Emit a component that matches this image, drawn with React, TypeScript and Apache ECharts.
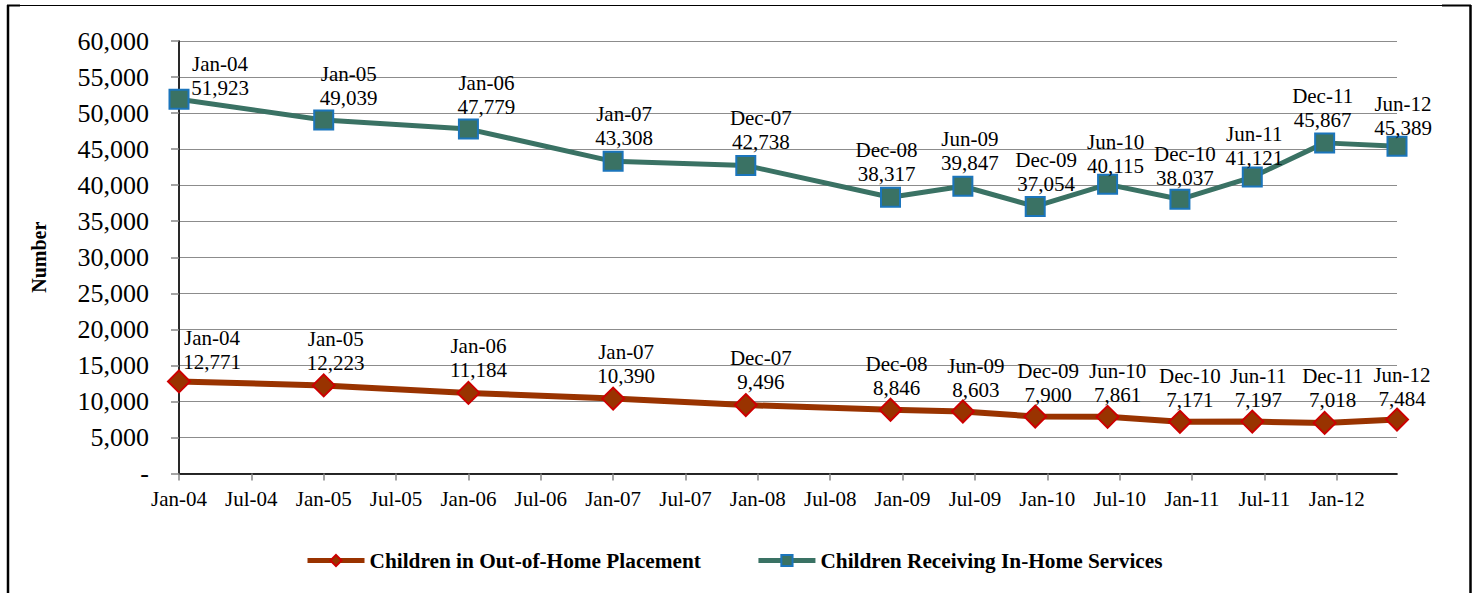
import React, { useEffect, useRef } from "react";
import * as echarts from "echarts";

// ---- data ----
const pointDates = ["Jan-04", "Jan-05", "Jan-06", "Jan-07", "Dec-07", "Dec-08", "Jun-09", "Dec-09", "Jun-10", "Dec-10", "Jun-11", "Dec-11", "Jun-12"];
// months since Jan-2004 for each point
const pointMonths = [0, 12, 24, 36, 47, 59, 65, 71, 77, 83, 89, 95, 101];
const outOfHome = [12771, 12223, 11184, 10390, 9496, 8846, 8603, 7900, 7861, 7171, 7197, 7018, 7484];
const inHome = [51923, 49039, 47779, 43308, 42738, 38317, 39847, 37054, 40115, 38037, 41121, 45867, 45389];
const monthNames = ["Jan", "Feb", "Mar", "Apr", "May", "Jun", "Jul", "Aug", "Sep", "Oct", "Nov", "Dec"];
const seriesNames = ["Children in Out-of-Home Placement", "Children Receiving In-Home Services"];

// ---- label layout (offsets of each data label, px) ----
const redLabelDx = [33, 12, 10, 13, 15, 6, 13, 13, 10, 10, 6, 8, 5];
const redLabelDy = [4, 1, 0, 0, 0, 1, 2, 1, 1, 1, 1, 0, 2];
const greenLabelDx = [41, 25, 18, 11, 15, -4, 7, 11, 8, 5, 2, -2, 6];
const greenLabelDy = [10, -1, -1, -2, -2, -2, -2, -1, 3, 0, 2, -1, 3];

const FONT = "Liberation Serif";

const fmt = (v: number) => v.toLocaleString("en-US");

export default function App() {
  const ref = useRef<HTMLDivElement>(null);
  useEffect(() => {
    if (!ref.current) return;
    const chart = echarts.init(ref.current, null, { renderer: "svg" });

    const labelBase = {
      show: true,
      position: "top" as const,
      distance: -1,
      fontSize: 21,
      lineHeight: 24,
      fontFamily: FONT,
      color: "#000",
      align: "center" as const,
    };

    const mk = (vals: number[], dx: number[], dy: number[]) =>
      vals.map((v, i) => ({
        value: [pointMonths[i], v],
        label: { ...labelBase, offset: [dx[i], dy[i]], formatter: `${pointDates[i]}\n${fmt(v)}` },
      }));

    chart.setOption({
      animation: false,
      backgroundColor: "#fff",
      textStyle: { fontFamily: FONT },
      grid: { left: 179, top: 41, right: 80, bottom: 119.5 },
      legend: {
        bottom: 17,
        left: 300,
        itemWidth: 57,
        itemHeight: 14,
        itemGap: 55,
        lineStyle: { width: 5 },
        textStyle: { fontSize: 21.3, fontWeight: "bold", fontFamily: FONT, color: "#000" },
        data: seriesNames,
      },
      xAxis: [
        {
          type: "value",
          min: 0,
          max: 101,
          interval: 6,
          axisLine: { show: true, lineStyle: { color: "#868686", width: 1.5 } },
          axisTick: { show: true, length: 7, lineStyle: { color: "#868686", width: 1.5 } },
          splitLine: { show: false },
          axisLabel: {
            fontSize: 21,
            fontFamily: FONT,
            color: "#000",
            margin: 15,
            showMaxLabel: false,
            formatter: (v: number) => {
              if (v % 6 !== 0) return "";
              const yr = 4 + Math.floor(v / 12);
              return `${monthNames[v % 12]}-${String(yr).padStart(2, "0")}`;
            },
          },
        },
        {
          type: "value",
          position: "top",
          min: 0,
          max: 101,
          axisLine: { show: true, lineStyle: { color: "#000", width: 1.5 } },
          axisTick: { show: false },
          axisLabel: { show: false },
          splitLine: { show: false },
        },
      ],
      yAxis: [
        {
          type: "value",
          min: 0,
          max: 60000,
          interval: 5000,
          name: "Number",
          nameLocation: "middle",
          nameGap: 130,
          nameTextStyle: { fontSize: 20, fontWeight: "bold", fontFamily: FONT, color: "#000" },
          axisLine: { show: true, lineStyle: { color: "#868686", width: 1.5 } },
          axisTick: { show: true, length: 8, lineStyle: { color: "#868686", width: 1.5 } },
          splitLine: { show: true, lineStyle: { color: "#8c8c8c", width: 1.2 } },
          axisLabel: {
            fontSize: 26,
            fontFamily: FONT,
            color: "#000",
            margin: 30,
            formatter: (v: number) => (v === 0 ? "-" : fmt(v)),
          },
        },
        {
          type: "value",
          position: "right",
          min: 0,
          max: 60000,
          axisLine: { show: true, lineStyle: { color: "#000", width: 1.5 } },
          axisTick: { show: false },
          axisLabel: { show: false },
          splitLine: { show: false },
        },
      ],
      series: [
        {
          name: seriesNames[0],
          type: "line",
          data: mk(outOfHome, redLabelDx, redLabelDy),
          symbol: "diamond",
          symbolSize: 22,
          lineStyle: { color: "#993300", width: 6 },
          itemStyle: { color: "#993300", borderColor: "#CC0000", borderWidth: 2 },
          z: 3,
        },
        {
          name: seriesNames[1],
          type: "line",
          data: mk(inHome, greenLabelDx, greenLabelDy),
          symbol: "rect",
          symbolSize: 19,
          lineStyle: { color: "#3A7264", width: 5 },
          itemStyle: { color: "#3A7264", borderColor: "#1B75BC", borderWidth: 2 },
          z: 3,
        },
      ],
      graphic: [
        { type: "line", shape: { x1: 7, y1: 5.5, x2: 1471, y2: 5.5 }, style: { stroke: "#000", lineWidth: 1 }, silent: true },
        { type: "line", shape: { x1: 7, y1: 5.5, x2: 20, y2: 5.5 }, style: { stroke: "#000", lineWidth: 2 }, silent: true },
        { type: "line", shape: { x1: 1442, y1: 5.5, x2: 1471, y2: 5.5 }, style: { stroke: "#000", lineWidth: 2 }, silent: true },
        { type: "line", shape: { x1: 8, y1: 5, x2: 8, y2: 600 }, style: { stroke: "#000", lineWidth: 2.5 }, silent: true },
        { type: "line", shape: { x1: 1470.5, y1: 5, x2: 1470.5, y2: 600 }, style: { stroke: "#000", lineWidth: 2.5 }, silent: true },
      ],
    });
    return () => chart.dispose();
  }, []);
  return (
    <div
      ref={ref}
      style={{ position: "absolute", left: 0, top: 0, width: 1477, height: 593, background: "#fff" }}
    />
  );
}
